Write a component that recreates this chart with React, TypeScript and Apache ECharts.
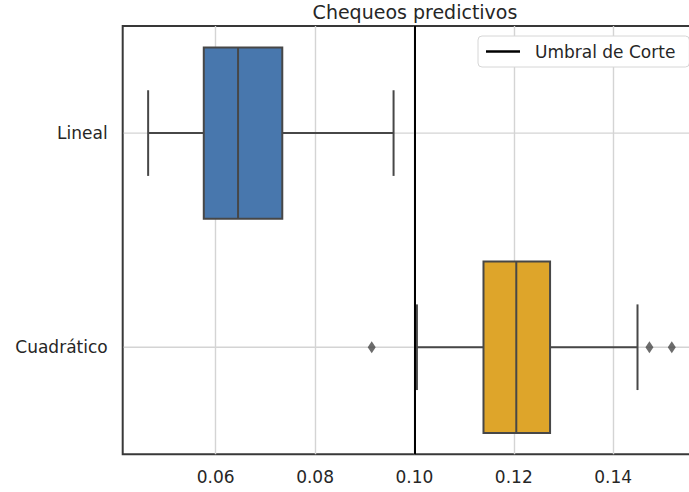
import React, { useEffect, useRef } from "react";
import * as echarts from "echarts";

// Box-and-whisker summary per model
const categories = ["Lineal", "Cuadrático"];
const whiskerLow = [0.0464, 0.1005];
const q1 = [0.0576, 0.1139];
const median = [0.0645, 0.1205];
const q3 = [0.0734, 0.1273];
const whiskerHigh = [0.0958, 0.1449];
// Points beyond the whiskers
const outliers: number[][] = [[], [0.0914, 0.1473, 0.1518]];
// Decision threshold
const threshold = 0.1;
const xTicks = [0.06, 0.08, 0.1, 0.12, 0.14];

const boxColors = ["#4877ad", "#dea52a"];
const edgeColor = "#474747";
const textColor = "#262626";
const font = "DejaVu Sans";

export default function App() {
  const ref = useRef<HTMLDivElement>(null);

  useEffect(() => {
    if (!ref.current) return;
    const chart = echarts.init(ref.current, undefined, { renderer: "svg" });

    const boxData = categories.map((_, i) => [
      i,
      whiskerLow[i],
      q1[i],
      median[i],
      q3[i],
      whiskerHigh[i],
    ]);

    const outlierData: [number, string][] = [];
    outliers.forEach((vals, i) =>
      vals.forEach((v) => outlierData.push([v, categories[i]]))
    );

    const renderItem = (params: any, api: any) => {
      const cat = api.value(0);
      const pLo = api.coord([api.value(1), cat]);
      const pQ1 = api.coord([api.value(2), cat]);
      const pMed = api.coord([api.value(3), cat]);
      const pQ3 = api.coord([api.value(4), cat]);
      const pHi = api.coord([api.value(5), cat]);
      const band = api.size([0, 1])[1];
      const half = band * 0.4;
      const cap = band * 0.2;
      const y = pMed[1];
      const cs = params.coordSys;
      const lineStyle = { stroke: edgeColor, lineWidth: 2 };
      return {
        type: "group",
        children: [
          {
            type: "line",
            shape: { x1: cs.x + 1, y1: y, x2: cs.x + cs.width, y2: y },
            style: { stroke: "#d4d4d4", lineWidth: 1.4 },
          },
          { type: "line", shape: { x1: pLo[0], y1: y, x2: pQ1[0], y2: y }, style: lineStyle },
          { type: "line", shape: { x1: pQ3[0], y1: y, x2: pHi[0], y2: y }, style: lineStyle },
          { type: "line", shape: { x1: pLo[0], y1: y - cap, x2: pLo[0], y2: y + cap }, style: lineStyle },
          { type: "line", shape: { x1: pHi[0], y1: y - cap, x2: pHi[0], y2: y + cap }, style: lineStyle },
          {
            type: "rect",
            shape: { x: pQ1[0], y: y - half, width: pQ3[0] - pQ1[0], height: half * 2 },
            style: { fill: boxColors[cat], stroke: edgeColor, lineWidth: 2 },
          },
          { type: "line", shape: { x1: pMed[0], y1: y - half, x2: pMed[0], y2: y + half }, style: lineStyle },
        ],
      };
    };

    chart.setOption({
      animation: false,
      textStyle: { fontFamily: font },
      title: {
        text: "Chequeos predictivos",
        left: 410,
        top: -3,
        textAlign: "center",
        textStyle: { fontFamily: font, fontSize: 19, fontWeight: "normal", color: textColor },
      },
      legend: {
        data: [{ name: "Umbral de Corte", icon: "rect" }],
        left: 478,
        top: 36,
        padding: [7, 14, 7, 8],
        itemWidth: 34,
        itemHeight: 2.5,
        backgroundColor: "#ffffff",
        borderColor: "#d6d6d6",
        borderWidth: 1,
        borderRadius: 4,
        textStyle: { fontFamily: font, fontSize: 17, color: textColor, padding: [0, 0, 0, 10] },
      },
      grid: {
        left: 122.7,
        top: 26,
        width: 578,
        bottom: 37.7,
        outerBoundsMode: "none",
        containLabel: false,
        show: true,
        borderColor: "#383838",
        borderWidth: 2,
        backgroundColor: "transparent",
      },
      xAxis: {
        type: "value",
        min: 0.04128,
        max: 0.15762,
        splitNumber: 5,
        axisLine: { show: false },
        axisTick: { show: false },
        splitLine: {
          show: true,
          showMinLine: false,
          showMaxLine: false,
          lineStyle: { color: "#d4d4d4", width: 1.4 },
        },
        axisLabel: {
          margin: 14,
          fontFamily: font,
          fontSize: 17,
          color: textColor,
          showMinLabel: false,
          showMaxLabel: false,
          formatter: (v: number) =>
            xTicks.some((t) => Math.abs(t - v) < 1e-6) ? v.toFixed(2) : "",
        },
      },
      yAxis: {
        type: "category",
        data: categories,
        inverse: true,
        axisLine: { show: false },
        axisTick: { show: false },
        splitLine: { show: false },
        axisLabel: { margin: 15, fontFamily: font, fontSize: 17, color: textColor },
      },
      series: [
        {
          type: "custom",
          name: "boxes",
          renderItem,
          encode: { x: [1, 2, 3, 4, 5], y: 0 },
          data: boxData,
          z: 2,
        },
        {
          type: "line",
          name: "Umbral de Corte",
          color: "#000000",
          data: [],
          z: 5,
          markLine: {
            silent: true,
            symbol: "none",
            label: { show: false },
            lineStyle: { color: "#000000", width: 2, type: "solid" },
            data: [{ xAxis: threshold }],
          },
        },
        {
          type: "scatter",
          name: "outliers",
          symbol: "diamond",
          symbolSize: [8, 12],
          itemStyle: { color: edgeColor },
          data: outlierData,
          z: 6,
        },
      ],
    });

    return () => chart.dispose();
  }, []);

  return (
    <div
      ref={ref}
      style={{ position: "fixed", left: 0, top: 0, width: 689, height: 492, background: "#fff" }}
    />
  );
}
